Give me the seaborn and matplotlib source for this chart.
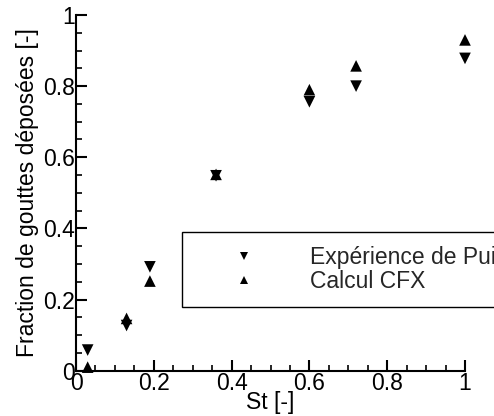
import matplotlib
matplotlib.use("Agg")
import matplotlib.pyplot as plt
import pandas as pd
import seaborn as sns
from matplotlib.ticker import MultipleLocator

st = [0.03, 0.13, 0.19, 0.36, 0.60, 0.72, 1.00]
experience = [0.058, 0.127, 0.292, 0.548, 0.756, 0.800, 0.878]
cfx = [0.010, 0.147, 0.252, 0.552, 0.790, 0.857, 0.930]
labels = ["Expérience de Puig", "Calcul CFX"]
tick_values = [0, 0.2, 0.4, 0.6, 0.8, 1]
tick_labels = ["0", "0.2", "0.4", "0.6", "0.8", "1"]


def main() -> None:
    sns.set_theme(style="white")
    plt.rcParams["font.family"] = ["Liberation Sans", "DejaVu Sans"]

    df = pd.concat([
        pd.DataFrame({"St": st, "frac": experience, "serie": labels[0]}),
        pd.DataFrame({"St": st, "frac": cfx, "serie": labels[1]}),
    ])

    fig = plt.figure(figsize=(4.94, 4.16), dpi=100)
    ax = fig.add_axes([76 / 494, 1 - 370.7 / 416, 389 / 494, 355.7 / 416])

    sns.scatterplot(
        data=df, x="St", y="frac", style="serie", hue="serie",
        markers={labels[0]: "v", labels[1]: "^"},
        palette={labels[0]: "black", labels[1]: "black"},
        s=70, linewidth=0, ax=ax, clip_on=False, legend=True,
    )

    ax.set_xlim(0, 1)
    ax.set_ylim(0, 1)
    ax.set_xticks(tick_values, tick_labels)
    ax.set_yticks(tick_values, tick_labels)
    ax.xaxis.set_minor_locator(MultipleLocator(0.05))
    ax.yaxis.set_minor_locator(MultipleLocator(0.05))
    ax.tick_params(which="major", direction="in", length=8, width=1.5,
                   labelsize=16.5, pad=1, color="black", labelcolor="black",
                   left=True, bottom=True)
    ax.tick_params(which="minor", direction="in", length=4.5, width=1.2,
                   color="black", left=True, bottom=True)
    for side in ("top", "right"):
        ax.spines[side].set_visible(False)
    for side in ("left", "bottom"):
        ax.spines[side].set_color("black")
        ax.spines[side].set_linewidth(1.5)

    ax.set_xlabel("St [-]", fontsize=16.5, labelpad=-3, color="black")
    ax.set_ylabel("Fraction de gouttes déposées [-]", fontsize=16.5,
                  labelpad=3, color="black")

    handles, _ = ax.get_legend_handles_labels()
    leg = fig.legend(
        handles, labels,
        loc="upper left",
        bbox_to_anchor=(182 / 494, 1 - 236.5 / 416, 0.8, 0.01),
        mode="expand", fontsize=16.5, frameon=True, fancybox=False,
        borderpad=0.6, handlelength=4.2, handletextpad=0.8,
        labelspacing=0.05, borderaxespad=0, markerscale=0.75,
    )
    ax.get_legend().remove()
    frame = leg.get_frame()
    frame.set_edgecolor("black")
    frame.set_linewidth(1.0)
    frame.set_alpha(1)

    fig.savefig("out.png", dpi=100)


if __name__ == "__main__":
    main()
